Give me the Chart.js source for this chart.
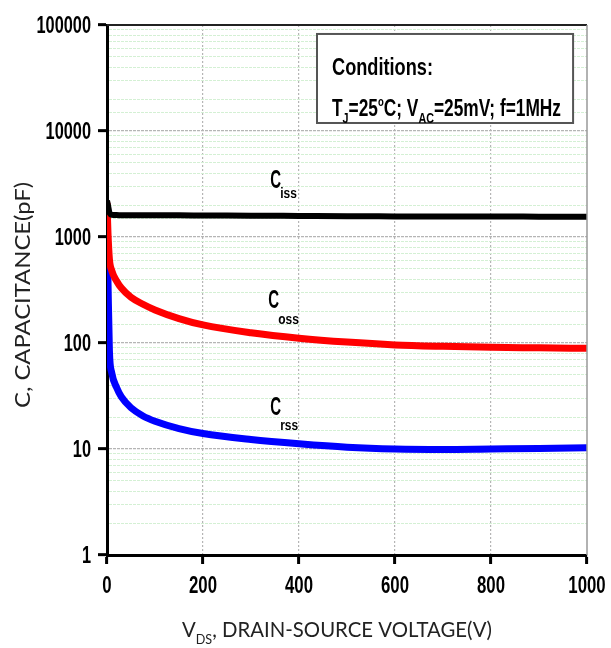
<!DOCTYPE html>
<html><head><meta charset="utf-8">
<script src="https://cdn.jsdelivr.net/npm/chart.js@4/dist/chart.umd.min.js"></script>
<style>html,body{margin:0;padding:0;background:#fff}#wrap{width:611px;height:648px}</style>
</head><body><div id="wrap"><canvas id="c" width="611" height="648"></canvas></div>
<script>
// ---- data ----
const voltage = [0, 2, 5, 10, 20, 30, 50, 75, 100, 150, 200, 300, 400, 500, 600, 700, 800, 900, 1000];
const ciss = [2200, 2000, 1700, 1620, 1610, 1605, 1600, 1600, 1600, 1600, 1595, 1590, 1580, 1570, 1565, 1560, 1560, 1555, 1550];
const coss = [2100, 1100, 620, 480, 385, 330, 270, 232, 205, 170, 148, 125, 111, 102, 96, 93, 91, 90, 89];
const crss = [1200, 400, 85, 52, 38, 31, 24.5, 20.5, 18.3, 15.6, 14, 12.3, 11.2, 10.4, 10, 9.9, 10, 10.1, 10.3];
const xTickValues = [0, 200, 400, 600, 800, 1000];
const yTickValues = [1, 10, 100, 1000, 10000, 100000];
const seriesNames = [['C', 'iss'], ['C', 'oss'], ['C', 'rss']];
const xTitle = [['V', ''], ['DS', 'sub'], [', DRAIN-SOURCE VOLTAGE(V)', '']];
const yTitle = 'C, CAPACITANCE(pF)';
const condTitle = 'Conditions:';
const condLine = [['T', ''], ['J', 'sub'], ['=25', ''], ['o', 'sup'], ['C; V', ''], ['AC', 'sub'], ['=25mV; f=1MHz', '']];

// ---- annotation placement (data coordinates) ----
const seriesLabelPos = [{x: 340, y: 2900, sub: 10}, {x: 336, y: 214, sub: 16}, {x: 340, y: 21, sub: 15}];
const boxPos = {x1: 437.5, x2: 971, y1: 82300, y2: 11900};

const BOLDF = "'Liberation Sans',Arimo,Arial,sans-serif";
const TITLEF = "Lato,'Open Sans',sans-serif";

function runWidth(ctx, runs, size, weight, family) {
  let w = 0;
  for (const [t, kind] of runs) {
    const s = kind === 'sub' ? size * 0.62 : kind === 'sup' ? size * 0.55 : size;
    ctx.font = weight + ' ' + s + 'px ' + family;
    w += ctx.measureText(t).width;
  }
  return w;
}
function drawFitted(ctx, x, y, runs, size, weight, family, w) {
  const nat = runWidth(ctx, runs, size, weight, family);
  const k = w / nat;
  ctx.save();
  ctx.translate(x, y);
  ctx.scale(k, 1);
  ctx.textAlign = 'left';
  let cx = 0;
  for (const [t, kind] of runs) {
    let s = size, dy = 0;
    if (kind === 'sub') { s = size * 0.62; dy = size * 0.3; }
    if (kind === 'sup') { s = size * 0.55; dy = -size * 0.42; }
    ctx.font = weight + ' ' + s + 'px ' + family;
    ctx.fillText(t, cx, dy);
    cx += ctx.measureText(t).width;
  }
  ctx.restore();
}
function drawSquished(ctx, text, x, y, align, size, k) {
  ctx.save();
  ctx.translate(x, y);
  ctx.scale(k, 1);
  ctx.textAlign = align;
  ctx.font = 'bold ' + size + 'px ' + BOLDF;
  ctx.fillText(text, 0, 0);
  ctx.restore();
}

const decor = {
  id: 'decor',
  afterDraw(chart) {
    const {ctx, chartArea: a, scales: {x, y}} = chart;
    ctx.save();
    ctx.strokeStyle = '#222'; ctx.lineWidth = 2;
    ctx.beginPath(); ctx.moveTo(a.left, a.top); ctx.lineTo(a.right, a.top); ctx.stroke();
    ctx.strokeStyle = '#999'; ctx.lineWidth = 1.5;
    ctx.beginPath(); ctx.moveTo(a.right, a.top); ctx.lineTo(a.right, a.bottom); ctx.stroke();

    ctx.fillStyle = '#000'; ctx.textBaseline = 'alphabetic';
    yTickValues.forEach(v => {
      drawSquished(ctx, String(v), a.left - 16, y.getPixelForValue(v) + 8, 'right', 23, 0.71);
    });
    xTickValues.forEach(v => {
      drawSquished(ctx, String(v), x.getPixelForValue(v), a.bottom + 38, 'center', 23, 0.73);
    });

    seriesNames.forEach((nm, i) => {
      const p = seriesLabelPos[i];
      const px = x.getPixelForValue(p.x);
      const py = y.getPixelForValue(p.y);
      drawSquished(ctx, nm[0], px, py, 'left', 25, 0.6);
      drawSquished(ctx, nm[1], px + 10, py + p.sub, 'left', 15, 0.8);
    });

    const bx1 = x.getPixelForValue(boxPos.x1), bx2 = x.getPixelForValue(boxPos.x2);
    const by1 = y.getPixelForValue(boxPos.y1), by2 = y.getPixelForValue(boxPos.y2);
    ctx.fillStyle = '#fff';
    ctx.fillRect(bx1, by1, bx2 - bx1, by2 - by1);
    ctx.strokeStyle = '#555'; ctx.lineWidth = 2;
    ctx.strokeRect(bx1, by1, bx2 - bx1, by2 - by1);
    ctx.fillStyle = '#000';
    drawFitted(ctx, bx1 + 15, by1 + 41, [[condTitle, '']], 24, 'bold', BOLDF, 101);
    drawFitted(ctx, bx1 + 15, by1 + 82, condLine, 24, 'bold', BOLDF, 229);

    ctx.fillStyle = '#222';
    drawFitted(ctx, 182, 637, xTitle, 22, 'normal', TITLEF, 310);
    ctx.translate(30, 408);
    ctx.rotate(-Math.PI / 2);
    drawFitted(ctx, 0, 0, [[yTitle, '']], 21, 'normal', TITLEF, 226);
    ctx.restore();
  }
};

const isMajor = v => yTickValues.includes(Math.round(v));

new Chart(document.getElementById('c'), {
  type: 'line',
  data: {
    datasets: [
      {label: 'Ciss', data: voltage.map((v, i) => ({x: v, y: ciss[i]})), borderColor: '#000', borderWidth: 6},
      {label: 'Coss', data: voltage.map((v, i) => ({x: v, y: coss[i]})), borderColor: '#ff0000', borderWidth: 7},
      {label: 'Crss', data: voltage.map((v, i) => ({x: v, y: crss[i]})), borderColor: '#0000ff', borderWidth: 7}
    ]
  },
  options: {
    responsive: false,
    animation: false,
    devicePixelRatio: 1,
    layout: {padding: {left: 0, right: 24, top: 25, bottom: 0}},
    elements: {point: {radius: 0}, line: {cubicInterpolationMode: 'monotone', fill: false}},
    plugins: {legend: {display: false}, tooltip: {enabled: false}},
    scales: {
      x: {
        type: 'linear', min: 0, max: 1000,
        afterBuildTicks: s => { s.ticks = xTickValues.map(v => ({value: v})); },
        ticks: {display: false},
        grid: {
          color: c => (c.tick && (c.tick.value === 0 || c.tick.value === 1000)) ? 'rgba(0,0,0,0)' : '#b5b5b5',
          lineWidth: 1.2, tickColor: '#000', tickLength: 9, tickWidth: 3
        },
        border: {color: '#000', width: 3, dash: [2, 2]},
        afterFit: s => { s.height = 93; }
      },
      y: {
        type: 'logarithmic', min: 1, max: 100000,
        ticks: {display: false, autoSkip: false},
        grid: {
          color: c => c.tick && isMajor(c.tick.value) ? '#b5b5b5' : '#d4f0d4',
          lineWidth: c => c.tick && isMajor(c.tick.value) ? 1.3 : 1,
          tickColor: c => c.tick && isMajor(c.tick.value) ? '#000' : 'rgba(0,0,0,0)',
          tickLength: 9, tickWidth: 3
        },
        border: {color: '#000', width: 3, dash: [3, 1]},
        afterFit: s => { s.width = 107; }
      }
    }
  },
  plugins: [decor]
});
</script></body></html>
